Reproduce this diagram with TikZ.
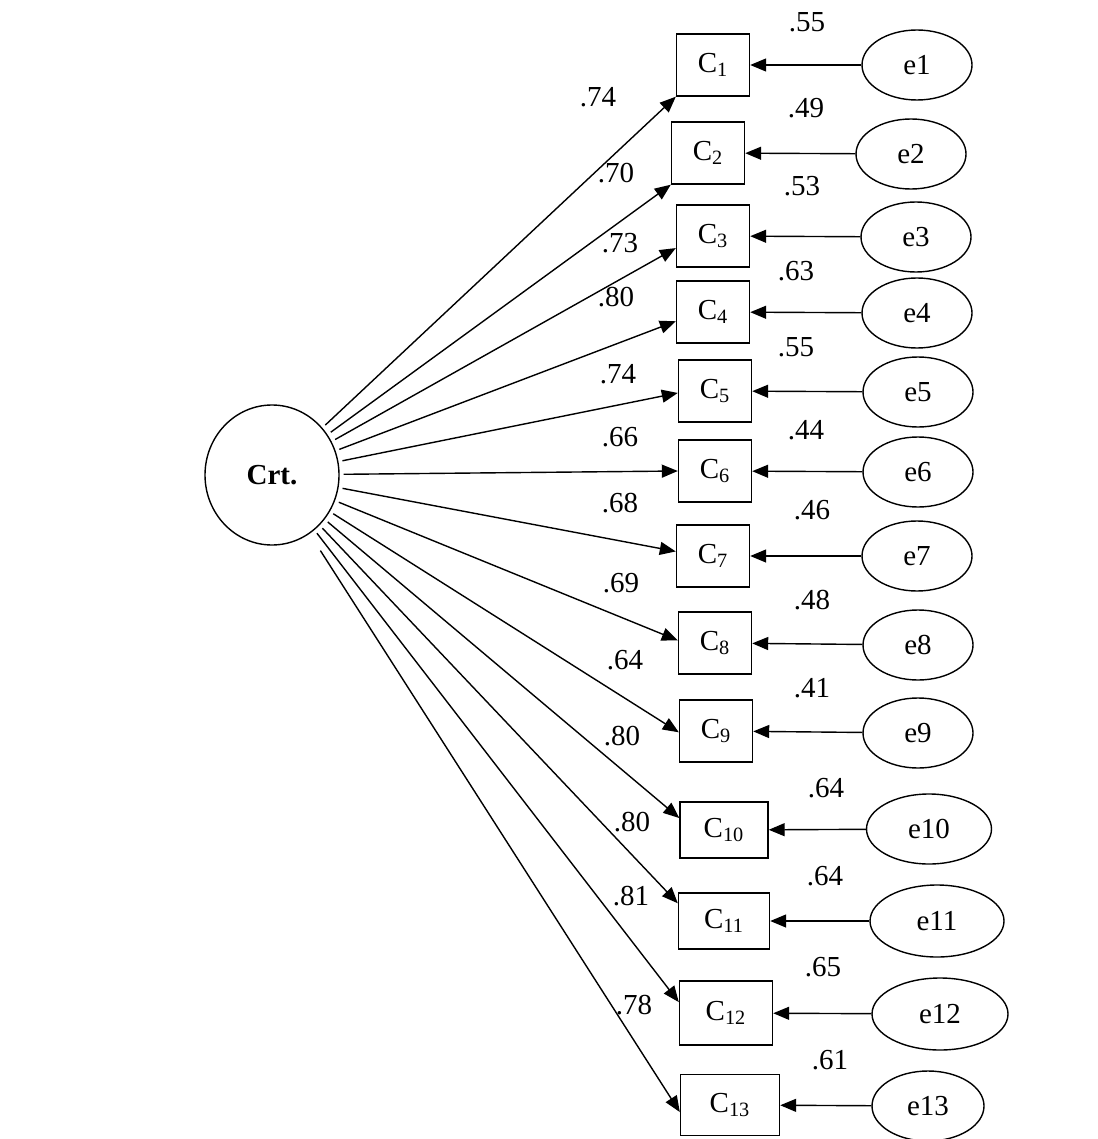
\documentclass[tikz,border=0pt]{standalone}
\usepackage{fontspec}
\setmainfont{Liberation Serif}
\usetikzlibrary{arrows.meta,shapes}

\begin{document}
\begin{tikzpicture}[x=0.5pt,y=-0.5pt,
  font=\fontsize{14.5}{16}\selectfont,line width=0.7pt,
  item/.style={draw,rectangle,minimum width=36.5pt,minimum height=31pt,inner sep=0pt},
  err/.style={draw,ellipse,minimum width=55pt,minimum height=35pt,inner sep=0pt},
  latent/.style={draw,ellipse,minimum width=67pt,minimum height=70pt,font=\fontsize{14.5}{16}\selectfont\bfseries},
  load/.style={-{Triangle[length=8pt,width=6.5pt]},shorten <=2pt},
  resid/.style={-{Triangle[length=8pt,width=6.5pt]}}]
  \useasboundingbox (0,0) rectangle (1097,1139);
  % latent factor
  \node[latent] (crt) at (272,475) {Crt.};
  % indicators
  \node[item] (c1) at (713,65) {C\textsubscript{1}};
  \node[item] (c2) at (708,153) {C\textsubscript{2}};
  \node[item] (c3) at (713,236) {C\textsubscript{3}};
  \node[item] (c4) at (713,312) {C\textsubscript{4}};
  \node[item] (c5) at (715,391) {C\textsubscript{5}};
  \node[item] (c6) at (715,471) {C\textsubscript{6}};
  \node[item] (c7) at (713,556) {C\textsubscript{7}};
  \node[item] (c8) at (715,643) {C\textsubscript{8}};
  \node[item] (c9) at (716,731) {C\textsubscript{9}};
  \node[item,minimum width=44pt,minimum height=28pt] (c10) at (724,830) {C\textsubscript{10}};
  \node[item,minimum width=45.5pt,minimum height=28pt] (c11) at (724,921) {C\textsubscript{11}};
  \node[item,minimum width=46.5pt,minimum height=32pt] (c12) at (726,1013) {C\textsubscript{12}};
  \node[item,minimum width=49.5pt,minimum height=30.5pt] (c13) at (730,1105) {C\textsubscript{13}};
  % error terms
  \node[err] (e1) at (917,65) {e1};
  \node[err] (e2) at (911,154) {e2};
  \node[err] (e3) at (916,237) {e3};
  \node[err] (e4) at (917,313) {e4};
  \node[err] (e5) at (918,392) {e5};
  \node[err] (e6) at (918,472) {e6};
  \node[err] (e7) at (917,556) {e7};
  \node[err] (e8) at (918,645) {e8};
  \node[err] (e9) at (918,733) {e9};
  \node[err,minimum width=62.5pt] (e10) at (929,829) {e10};
  \node[err,minimum width=67pt,minimum height=36pt] (e11) at (937,921) {e11};
  \node[err,minimum width=68pt,minimum height=36pt] (e12) at (940,1014) {e12};
  \node[err,minimum width=56pt] (e13) at (928,1106) {e13};
  % loadings
  \draw[load] (crt) -- (c1.south west);
  \draw[load] (crt) -- (c2.south west);
  \draw[load] (crt) -- (c3.198);
  \draw[load] (crt) -- (c4.194);
  \draw[load] (crt) -- (c5.183);
  \draw[load] (crt) -- (c6.west);
  \draw[load] (crt) -- (c7.173);
  \draw[load] (crt) -- (c8.176);
  \draw[load] (crt) -- (c9.182);
  \draw[load] (crt) -- (c10.165);
  \draw[load] (crt) -- (c11.159);
  \draw[load] (crt) -- (c12.167);
  \draw[load,shorten <=10pt] (crt) -- (c13.188);
  % residual paths
  \draw[resid] (e1) -- (c1);
  \draw[resid] (e2) -- (c2);
  \draw[resid] (e3) -- (c3);
  \draw[resid] (e4) -- (c4);
  \draw[resid] (e5) -- (c5);
  \draw[resid] (e6) -- (c6);
  \draw[resid] (e7) -- (c7);
  \draw[resid] (e8) -- (c8);
  \draw[resid] (e9) -- (c9);
  \draw[resid] (e10) -- (c10);
  \draw[resid] (e11) -- (c11);
  \draw[resid] (e12) -- (c12);
  \draw[resid] (e13) -- (c13);
  % loading values
  \node (l1) at (598,97) {.74};
  \node (l2) at (616,173) {.70};
  \node (l3) at (620,243) {.73};
  \node (l4) at (616,297) {.80};
  \node (l5) at (618,374) {.74};
  \node (l6) at (620,437) {.66};
  \node (l7) at (620,503) {.68};
  \node (l8) at (621,583) {.69};
  \node (l9) at (625,660) {.64};
  \node (l10) at (622,736) {.80};
  \node (l11) at (632,822) {.80};
  \node (l12) at (631,896) {.81};
  \node (l13) at (634,1005) {.78};
  % squared multiple correlations
  \node (r1) at (807,22) {.55};
  \node (r2) at (806,108) {.49};
  \node (r3) at (802,186) {.53};
  \node (r4) at (796,271) {.63};
  \node (r5) at (796,347) {.55};
  \node (r6) at (806,430) {.44};
  \node (r7) at (812,510) {.46};
  \node (r8) at (812,600) {.48};
  \node (r9) at (812,688) {.41};
  \node (r10) at (826,788) {.64};
  \node (r11) at (825,876) {.64};
  \node (r12) at (823,967) {.65};
  \node (r13) at (830,1060) {.61};
\end{tikzpicture}
\end{document}
